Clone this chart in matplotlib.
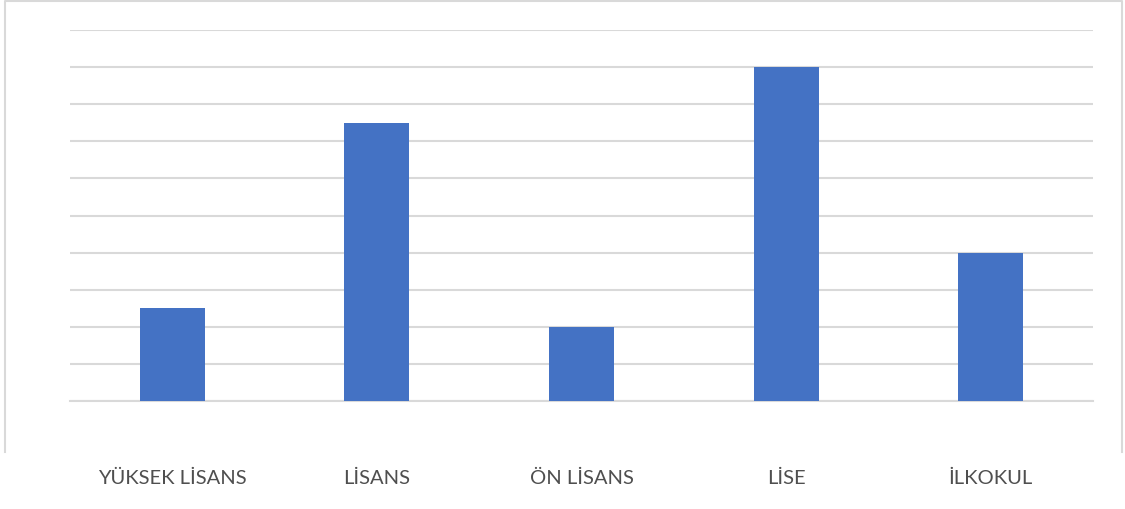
import matplotlib
matplotlib.use('Agg')
from matplotlib import pyplot as plt
from matplotlib.lines import Line2D
import numpy as np

categories = ['YÜKSEK LİSANS', 'LİSANS', 'ÖN LİSANS', 'LİSE', 'İLKOKUL']
values = [2.5, 7.5, 2, 9, 4]

W, H = 1125, 510
fig = plt.figure(figsize=(W / 100, H / 100), dpi=100)
# axes box in pixels: left 70, right 1093, top 31, bottom 402
ax = fig.add_axes([70 / W, 1 - 402 / H, (1093 - 70) / W, (402 - 31) / H])

x = np.arange(len(categories))
ax.bar(x, values, width=0.318, color='#4472C4', zorder=3)

ax.set_xlim(-0.5, len(categories) - 0.5)
ax.set_ylim(0, 10)
ax.set_yticks(np.arange(0, 11, 1))
ax.yaxis.grid(True, color='#D9D9D9', linewidth=1.5, zorder=0)
ax.tick_params(axis='y', left=False, labelleft=False)
ax.set_xticks(x)
ax.set_xticklabels(categories, fontsize=14.5, color='#4F4F4F', family=['Lato', 'DejaVu Sans'])
ax.tick_params(axis='x', length=0, pad=49)
for s in ['left', 'right', 'top']:
    ax.spines[s].set_visible(False)
ax.spines['bottom'].set_color('#D9D9D9')
ax.spines['bottom'].set_linewidth(1.5)

# chart area border (cut off at the bottom)
border_col = '#D9D9D9'
pts_x = [5, 5, 1122, 1122]
pts_y = [453, 2, 2, 453]
fig.add_artist(Line2D([px / W for px in pts_x], [1 - py / H for py in pts_y],
                      transform=fig.transFigure, color=border_col, linewidth=1.5))

fig.savefig('out.png', dpi=100, facecolor='white')
